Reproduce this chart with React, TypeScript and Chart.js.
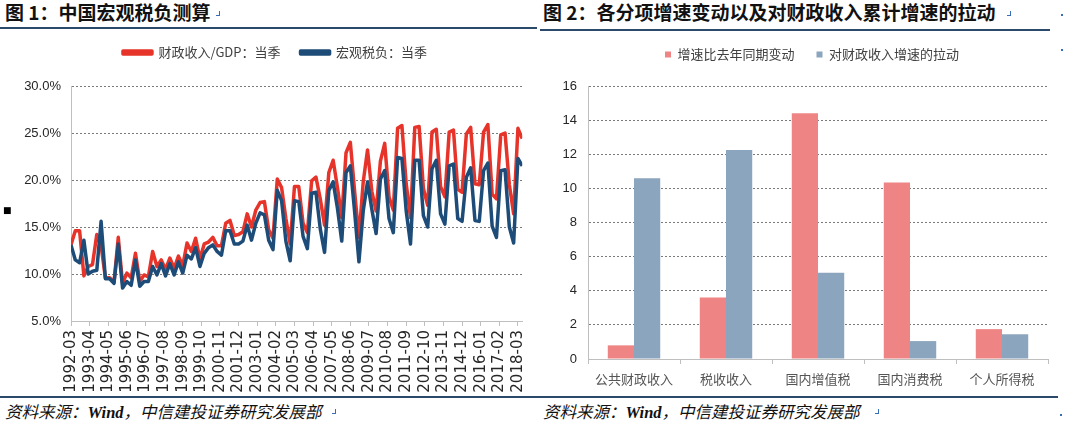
import React, { useEffect, useRef } from 'react';
import { Chart, registerables } from 'chart.js';

Chart.register(...registerables);

// ---------- Data: chart 1 (quarterly, 1992-03 .. 2018-06) ----------
const START_YEAR = 1992;
const START_MONTH = 3;
const QUARTER_MONTHS = ['03', '06', '09', '12'];

const fiscalRevenueToGdp = [
  13.1, 14.6, 14.6, 9.8,
  10.8, 11.0, 14.2, 13.0,
  9.6, 9.6, 9.1, 13.9,
  9.0, 10.1, 9.6, 12.2,
  9.2, 9.9, 9.7, 12.4,
  10.8, 11.5, 10.5, 11.7,
  10.6, 11.9, 10.9, 13.3,
  12.4, 13.8, 11.6, 13.2,
  13.4, 13.9, 13.0, 13.0,
  15.4, 15.7, 14.1, 14.2,
  14.5, 16.4, 15.0, 16.8,
  17.6, 17.7, 14.7, 13.8,
  20.1, 19.2, 15.9, 13.2,
  19.3, 19.3, 15.4, 14.4,
  19.9, 20.3, 18.0, 15.2,
  20.8, 22.1, 19.2, 16.0,
  22.9, 24.0, 18.8, 13.9,
  19.8, 23.2, 18.8, 16.7,
  22.0, 23.9, 18.2, 16.8,
  25.5, 25.8, 19.6, 16.0,
  25.6, 25.7, 19.1, 17.3,
  25.1, 25.4, 19.3, 18.2,
  25.1, 25.3, 19.0, 18.7,
  24.9, 25.6, 19.6, 19.5,
  25.1, 25.9, 18.5, 18.0,
  24.8, 25.0, 19.5, 16.4,
  25.5, 24.4,
];

const macroTaxBurden = [
  13.1, 11.5, 11.2, 13.6,
  10.0, 10.3, 10.4, 15.6,
  9.5, 9.5, 9.0, 13.2,
  8.5, 9.2, 8.8, 11.5,
  8.7, 9.2, 9.2, 10.8,
  9.9, 11.1, 9.8, 11.1,
  9.9, 11.3, 10.1, 12.0,
  11.6, 12.8, 10.8, 12.2,
  12.8, 13.1, 12.4, 12.0,
  14.6, 14.6, 13.2, 13.2,
  13.5, 15.2, 13.6, 15.4,
  16.5, 16.3, 13.6, 12.6,
  18.9, 17.8, 13.5, 11.4,
  17.8, 17.7, 14.0, 12.7,
  18.6, 18.7, 14.8, 12.3,
  18.9, 19.8, 17.0, 13.5,
  20.8, 21.5, 16.6, 11.3,
  16.7, 19.8, 16.9, 14.3,
  20.1, 21.0, 15.9, 14.4,
  22.4, 22.3, 16.7, 13.2,
  22.1, 22.1, 16.2, 15.0,
  21.2, 22.1, 16.4, 15.3,
  21.5, 21.7, 15.9, 15.6,
  20.3, 21.3, 15.7, 15.6,
  21.0, 21.8, 15.1, 13.9,
  21.0, 21.1, 15.0, 13.3,
  22.3, 21.5,
];

const xTickLabels = [
  '1992-03', '1993-04', '1994-05', '1995-06', '1996-07', '1997-08', '1998-09',
  '1999-10', '2000-11', '2001-12', '2003-01', '2004-02', '2005-03', '2006-04',
  '2007-05', '2008-06', '2009-07', '2010-08', '2011-09', '2012-10', '2013-11',
  '2014-12', '2016-01', '2017-02', '2018-03',
];

const yTicks1 = [5, 10, 15, 20, 25, 30];

// ---------- Data: chart 2 ----------
const barCategories = ['公共财政收入', '税收收入', '国内增值税', '国内消费税', '个人所得税'];
const growthChangeYoY = [0.8, 3.6, 14.4, 10.35, 1.75];
const pullOnRevenueGrowth = [10.6, 12.25, 5.05, 1.05, 1.45];
const yTicks2 = [0, 2, 4, 6, 8, 10, 12, 14, 16];

// ---------- helpers ----------
const quarterDates = fiscalRevenueToGdp.map(
  (_, i) => `${START_YEAR + Math.floor(i / 4)}-${QUARTER_MONTHS[i % 4]}`
);
const monthsFromStart = (label: string) => {
  const [y, m] = label.split('-').map(Number);
  return (y - START_YEAR) * 12 + (m - START_MONTH);
};
const xMax = monthsFromStart(quarterDates[quarterDates.length - 1]);

const RED = '#E6342A';
const NAVY = '#1E4C78';
const PINK = '#EE8484';
const STEEL = '#8AA5BD';
const AXIS = '#BFBFBF';
const GRID = '#7A7A7A';
const CJK = "'Noto Sans CJK SC', sans-serif";
const LATIN = "'Liberation Sans', Arial, sans-serif";

// adds vertical room under the legend and nudges it horizontally
const legendTweak = (extra: number, dx: number) => ({
  id: 'legendTweak',
  beforeLayout(chart: any) {
    const lg = chart.legend;
    if (lg && !lg._gapPatched) {
      const orig = lg.fit.bind(lg);
      lg.fit = function () {
        orig();
        this.height += extra;
      };
      lg._gapPatched = true;
    }
  },
  afterLayout(chart: any) {
    const lg = chart.legend;
    if (lg) {
      lg.left += dx;
      lg.right += dx;
    }
  },
});

const CANVAS_TOP = 26;
const CANVAS_H = 372;

function LineChart() {
  const ref = useRef<HTMLCanvasElement>(null);
  useEffect(() => {
    const chart = new Chart(ref.current!, {
      type: 'line',
      data: {
        datasets: [
          {
            label: '财政收入/GDP：当季',
            data: fiscalRevenueToGdp.map((v, i) => ({ x: monthsFromStart(quarterDates[i]), y: v })),
            borderColor: RED,
            backgroundColor: RED,
            borderWidth: 3.5,
            pointRadius: 0,
            borderJoinStyle: 'round',
            tension: 0,
            order: 1,
          },
          {
            label: '宏观税负：当季',
            data: macroTaxBurden.map((v, i) => ({ x: monthsFromStart(quarterDates[i]), y: v })),
            borderColor: NAVY,
            backgroundColor: NAVY,
            borderWidth: 3.5,
            pointRadius: 0,
            borderJoinStyle: 'round',
            tension: 0,
            order: 0,
          },
        ],
      },
      options: {
        responsive: false,
        animation: false,
        events: [],
        devicePixelRatio: 1,
        layout: { padding: { top: 0, right: 7, bottom: 0, left: 0 } },
        plugins: {
          tooltip: { enabled: false },
          legend: {
            labels: {
              boxWidth: 29,
              boxHeight: 3,
              padding: 20,
              color: '#404040',
              font: { family: CJK, size: 13 },
              sort: (a: any, b: any) => a.datasetIndex - b.datasetIndex,
            },
          },
        },
        scales: {
          x: {
            type: 'linear',
            min: 0,
            max: xMax,
            afterBuildTicks: (s: any) => {
              s.ticks = xTickLabels.map((l) => ({ value: monthsFromStart(l) }));
            },
            afterFit: (s: any) => {
              s.height = 77;
            },
            ticks: {
              autoSkip: false,
              minRotation: 90,
              maxRotation: 90,
              padding: 4,
              color: '#262626',
              font: { family: "'DejaVu Sans', sans-serif", size: 15 },
              callback: (_v: any, i: number) => xTickLabels[i],
            },
            grid: { drawOnChartArea: false, drawTicks: true, tickLength: 5, color: AXIS },
            border: { color: AXIS, width: 1 },
          },
          y: {
            min: 5,
            max: 30,
            afterBuildTicks: (s: any) => {
              s.ticks = yTicks1.map((v) => ({ value: v }));
            },
            afterFit: (s: any) => {
              s.width = 71;
            },
            ticks: {
              padding: 10,
              color: '#262626',
              font: { family: LATIN, size: 13 },
              callback: (v: any) => Number(v).toFixed(1) + '%',
            },
            grid: {
              drawTicks: false,
              color: (c: any) => (c.tick && c.tick.value === 5 ? 'rgba(0,0,0,0)' : GRID),
            },
            border: { color: AXIS, width: 1, dash: [2, 2] },
          },
        },
      },
      plugins: [legendTweak(17, 8.5)],
    } as any);
    return () => chart.destroy();
  }, []);
  return <canvas ref={ref} width={540} height={CANVAS_H} style={{ width: 540, height: CANVAS_H, display: 'block' }} />;
}

function BarChart() {
  const ref = useRef<HTMLCanvasElement>(null);
  useEffect(() => {
    const chart = new Chart(ref.current!, {
      type: 'bar',
      data: {
        labels: barCategories,
        datasets: [
          {
            label: '增速比去年同期变动',
            data: growthChangeYoY,
            backgroundColor: PINK,
            categoryPercentage: 0.57,
            barPercentage: 1,
          },
          {
            label: '对财政收入增速的拉动',
            data: pullOnRevenueGrowth,
            backgroundColor: STEEL,
            categoryPercentage: 0.57,
            barPercentage: 1,
          },
        ],
      },
      options: {
        responsive: false,
        animation: false,
        events: [],
        devicePixelRatio: 1,
        layout: { padding: { top: 0, right: 32, bottom: 0, left: 0 } },
        plugins: {
          tooltip: { enabled: false },
          legend: {
            labels: {
              boxWidth: 6,
              boxHeight: 6,
              padding: 22,
              color: '#404040',
              font: { family: CJK, size: 13 },
            },
          },
        },
        scales: {
          x: {
            afterFit: (s: any) => {
              s.height = 39;
            },
            ticks: {
              padding: 7,
              color: '#555555',
              font: { family: CJK, size: 13 },
            },
            grid: { offset: true, drawOnChartArea: false, drawTicks: true, tickLength: 5, color: AXIS },
            border: { color: AXIS, width: 1 },
          },
          y: {
            min: 0,
            max: 16,
            afterBuildTicks: (s: any) => {
              s.ticks = yTicks2.map((v) => ({ value: v }));
            },
            afterFit: (s: any) => {
              s.width = 48;
            },
            ticks: {
              padding: 11,
              color: '#262626',
              font: { family: LATIN, size: 13 },
              callback: (v: any) => String(v),
            },
            grid: {
              drawTicks: false,
              color: (c: any) => (c.tick && c.tick.value === 0 ? 'rgba(0,0,0,0)' : GRID),
            },
            border: { color: AXIS, width: 1, dash: [2, 2] },
          },
        },
      },
      plugins: [legendTweak(15, 18)],
    } as any);
    return () => chart.destroy();
  }, []);
  return <canvas ref={ref} width={540} height={CANVAS_H} style={{ width: 540, height: CANVAS_H, display: 'block' }} />;
}

const RULE = '#2B4A6B';
const MARK = '#3A6DB5';

function Mark({ left, top }: { left: number; top: number }) {
  return (
    <div
      style={{
        position: 'absolute',
        left,
        top,
        width: 3,
        height: 4,
        borderRight: `1.5px solid ${MARK}`,
        borderBottom: `1.5px solid ${MARK}`,
      }}
    />
  );
}

export default function App() {
  const titleStyle: React.CSSProperties = {
    position: 'absolute',
    top: 1,
    fontFamily: CJK,
    fontWeight: 700,
    fontSize: 19,
    lineHeight: '22px',
    color: '#111',
    whiteSpace: 'nowrap',
  };
  const sourceStyle: React.CSSProperties = {
    position: 'absolute',
    top: 402,
    fontFamily: "'Liberation Serif', 'Noto Sans CJK SC', serif",
    fontStyle: 'italic',
    fontSize: 16.5,
    lineHeight: '22px',
    color: '#111',
    whiteSpace: 'nowrap',
  };
  return (
    <div style={{ position: 'absolute', left: 0, top: 0, width: 1080, height: 427, background: '#fff', overflow: 'hidden' }}>
      <div style={{ ...titleStyle, left: 5 }}>图 1：中国宏观税负测算</div>
      <Mark left={216} top={11} />
      <div style={{ ...titleStyle, left: 543 }}>图 2：各分项增速变动以及对财政收入累计增速的拉动</div>
      <Mark left={1007} top={11} />
      <div style={{ position: 'absolute', left: 0, top: 27, width: 537, height: 2, background: RULE }} />
      <div style={{ position: 'absolute', left: 540, top: 29, width: 510, height: 2, background: RULE }} />

      <div style={{ position: 'absolute', left: 0, top: CANVAS_TOP }}>
        <LineChart />
      </div>
      <div style={{ position: 'absolute', left: 540, top: CANVAS_TOP }}>
        <BarChart />
      </div>
      <div style={{ position: 'absolute', left: 3, top: 204, fontFamily: "'DejaVu Sans', sans-serif", fontSize: 9, lineHeight: '12px', color: '#000' }}>■</div>

      <div style={{ position: 'absolute', left: 0, top: 396, width: 1058, height: 2, background: RULE }} />
      <div style={{ ...sourceStyle, left: 5 }}>资料来源：<b>Wind</b>，中信建投证券研究发展部</div>
      <Mark left={332} top={409} />
      <div style={{ ...sourceStyle, left: 543 }}>资料来源：<b>Wind</b>，中信建投证券研究发展部</div>
      <Mark left={875} top={409} />
      <div style={{ position: 'absolute', left: 1061, top: 14, width: 2, height: 2, background: MARK }} />
      <div style={{ position: 'absolute', left: 1061, top: 49, width: 2, height: 2, background: MARK }} />
      <div style={{ position: 'absolute', left: 1060, top: 414, width: 2, height: 2, background: MARK }} />
    </div>
  );
}
